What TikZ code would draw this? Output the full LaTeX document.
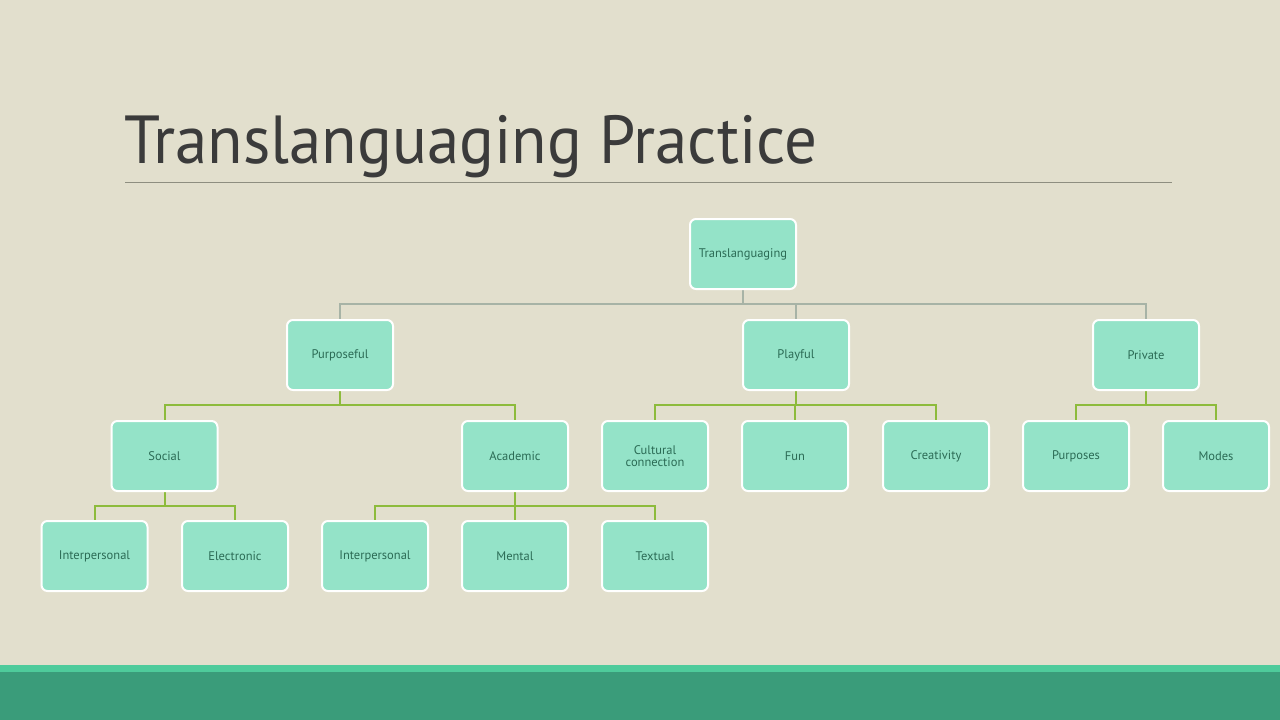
\documentclass[tikz,border=0pt]{standalone}
\usepackage{fontspec}
\setmainfont{PT Sans}
\definecolor{bg}{HTML}{E2DFCD}
\definecolor{boxfill}{HTML}{94E3C8}
\definecolor{boxtext}{HTML}{2B6B55}
\definecolor{titlec}{HTML}{3B3B3B}
\definecolor{rulec}{HTML}{8E8E80}
\definecolor{graylink}{HTML}{A7B3A6}
\definecolor{greenlink}{HTML}{8DBB3C}
\definecolor{bandlight}{HTML}{4ECB9B}
\definecolor{banddark}{HTML}{3A9C7A}
\pgfdeclarelayer{back}
\pgfdeclarelayer{links}
\pgfsetlayers{back,links,main}
\tikzset{
  box/.style={draw=white, line width=2pt, fill=boxfill, rounded corners=6pt,
    minimum width=106pt, minimum height=70pt, inner sep=2pt,
    text=boxtext, font=\fontsize{12.5}{12.5}\selectfont, align=center},
  glink/.style={draw=graylink, line width=2pt},
  vlink/.style={draw=greenlink, line width=2pt}
}
\begin{document}
\begin{tikzpicture}[x=1pt,y=-1pt]
\begin{pgfonlayer}{back}
\fill[bg] (0,0) rectangle (1280,720);
\fill[bandlight] (0,665) rectangle (1280,672);
\fill[banddark] (0,672) rectangle (1280,720);
\end{pgfonlayer}
\useasboundingbox (0,0) rectangle (1280,720);
% title
\node[anchor=base west, inner sep=0, text=titlec, xscale=0.955, font=\fontsize{68}{70}\selectfont] (title) at (124,163) {Translanguaging Practice};
\draw[rulec, line width=1pt] (125,182) coordinate (rl) -- (1172,182) coordinate (rr);
% nodes
\node[box] (root) at (743,254) {Translanguaging};
\node[box] (purp) at (340,355) {Purposeful};
\node[box] (play) at (796,355) {Playful};
\node[box] (priv) at (1146,355) {Private};
\node[box] (soc) at (164.5,456) {Social};
\node[box] (acad) at (515,456) {Academic};
\node[box] (cult) at (655,456) {Cultural\\connection};
\node[box] (fun) at (795,456) {Fun};
\node[box] (crea) at (936,456) {Creativity};
\node[box] (purps) at (1076,456) {Purposes};
\node[box] (modes) at (1216,456) {Modes};
\node[box] (inter1) at (94.5,556) {Interpersonal};
\node[box] (elec) at (235,556) {Electronic};
\node[box] (inter2) at (375,556) {Interpersonal};
\node[box] (ment) at (515,556) {Mental};
\node[box] (text) at (655,556) {Textual};
\begin{pgfonlayer}{links}
% connectors level 1
\foreach \c in {purp,play,priv}
  \draw[glink] (root.south) -- ++(0,14) -| (\c.north);
% level 2
\foreach \c in {soc,acad}
  \draw[vlink] (purp.south) -- ++(0,14) -| (\c.north);
\foreach \c in {cult,fun,crea}
  \draw[vlink] (play.south) -- ++(0,14) -| (\c.north);
\foreach \c in {purps,modes}
  \draw[vlink] (priv.south) -- ++(0,14) -| (\c.north);
% level 3
\foreach \c in {inter1,elec}
  \draw[vlink] (soc.south) -- ++(0,14) -| (\c.north);
\foreach \c in {inter2,ment,text}
  \draw[vlink] (acad.south) -- ++(0,14) -| (\c.north);
\end{pgfonlayer}
\end{tikzpicture}
\end{document}
